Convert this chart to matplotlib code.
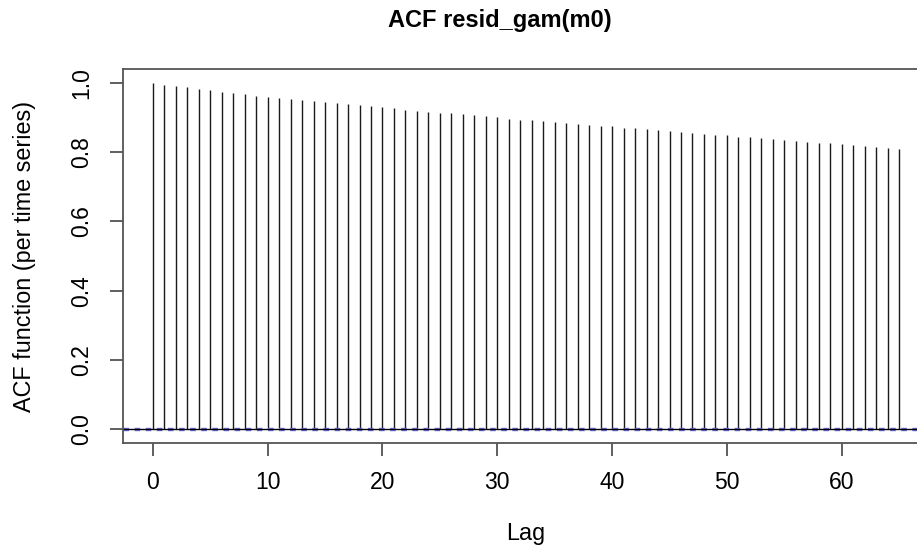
import numpy as np
import matplotlib
matplotlib.use("Agg")
import matplotlib.pyplot as plt

plt.rcParams['font.family'] = ['Liberation Sans', 'DejaVu Sans']

# ACF values per lag
lags = list(range(66))
acf = [1.000, 0.995, 0.991, 0.987, 0.983, 0.979, 0.975, 0.971, 0.967, 0.963,
       0.960, 0.957, 0.954, 0.950, 0.947, 0.944, 0.941, 0.938, 0.935, 0.932,
       0.929, 0.926, 0.923, 0.920, 0.917, 0.914, 0.912, 0.909, 0.906, 0.903,
       0.900, 0.897, 0.894, 0.892, 0.889, 0.887, 0.884, 0.882, 0.879, 0.876,
       0.874, 0.871, 0.869, 0.866, 0.863, 0.861, 0.858, 0.856, 0.853, 0.850,
       0.848, 0.845, 0.843, 0.840, 0.837, 0.835, 0.832, 0.830, 0.827, 0.825,
       0.822, 0.820, 0.817, 0.815, 0.812, 0.809]
ci = 0.002
x_ticks = [0, 10, 20, 30, 40, 50, 60]
y_ticks = [0.0, 0.2, 0.4, 0.6, 0.8, 1.0]

W, H = 917, 548
fig = plt.figure(figsize=(W / 100, H / 100), dpi=100)
# plot region in pixels: left 123, right 929 (runs off the image), top 69, bottom 443
ax = fig.add_axes([123 / W, (H - 443) / H, (929 - 123) / W, (443 - 69) / H])

ax.vlines(lags, 0, acf, color='#1a1a1a', lw=1.0)
# blue dashed bounds sit almost on the zero line
ax.axhline(ci, color='#6a6ae0', lw=1.0, ls=(0, (4, 4)))
ax.axhline(-ci, color='#6a6ae0', lw=1.0, ls=(0, (4, 4)))
ax.axhline(0, color='black', lw=1.0)

ax.set_xlim(-2.6, 67.6)
ax.set_ylim(-0.04, 1.04)
ax.set_xticks(x_ticks)
ax.set_yticks(y_ticks)
ax.set_yticklabels([f"{v:.1f}" for v in y_ticks], rotation=90, va='center')
ax.tick_params(axis='both', direction='out', length=9.4, width=1.2, color='#444444',
               labelsize=16.5)
ax.tick_params(axis='x', pad=11)
ax.tick_params(axis='y', pad=12)
for s in ax.spines.values():
    s.set_color('#555555')
    s.set_linewidth(1.3)

ax.set_xlabel('Lag', fontsize=16.8, labelpad=20)
ax.set_ylabel('ACF function (per time series)', fontsize=16.8, labelpad=25)
fig.text(500 / W, 1 - 20 / H, 'ACF resid_gam(m0)', fontsize=17, fontweight='bold',
         ha='center', va='center')

fig.savefig('out.png', dpi=100)
